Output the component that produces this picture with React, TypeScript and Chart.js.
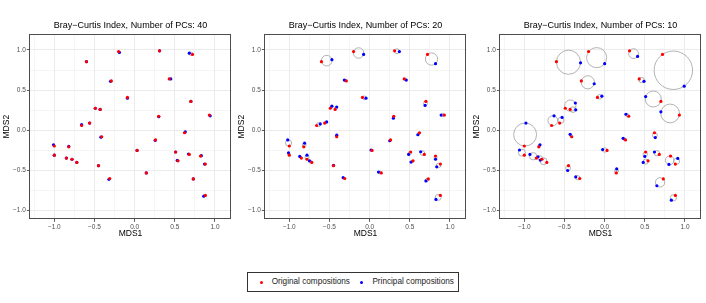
import React, { useEffect, useRef } from "react";
import { Chart, registerables } from "chart.js";
Chart.register(...registerables);

// ---- data ----
const originalX = [-0.20, 0.31, 0.72, -0.60, -0.29, 0.43, -0.09, 0.70, -0.49, -0.43, 0.30, 0.93, -0.66, -0.56, 0.62, -0.41, -1.00, -1.00, -0.82, -0.85, -0.78, -0.72, 0.03, 0.26, 0.51, 0.54, 0.68, 0.82, 0.88, -0.45, -0.31, 0.145, 0.73, 0.88];
const originalY = [0.98, 0.99, 0.945, 0.855, 0.615, 0.64, 0.41, 0.36, 0.275, 0.26, 0.175, 0.19, 0.06, 0.09, -0.03, -0.08, -0.195, -0.31, -0.205, -0.345, -0.36, -0.40, -0.25, -0.12, -0.27, -0.38, -0.30, -0.32, -0.42, -0.44, -0.60, -0.53, -0.605, -0.81];

const pc40X = [-0.19, 0.31, 0.68, -0.60, -0.30, 0.45, -0.09, 0.70, -0.49, -0.43, 0.30, 0.94, -0.66, -0.56, 0.63, -0.42, -1.01, -1.00, -0.82, -0.85, -0.78, -0.72, 0.03, 0.255, 0.51, 0.53, 0.67, 0.83, 0.87, -0.45, -0.32, 0.145, 0.73, 0.86];
const pc40Y = [0.97, 0.99, 0.96, 0.855, 0.61, 0.64, 0.40, 0.36, 0.275, 0.26, 0.17, 0.18, 0.07, 0.09, -0.02, -0.085, -0.18, -0.31, -0.20, -0.345, -0.36, -0.40, -0.25, -0.125, -0.27, -0.375, -0.295, -0.315, -0.42, -0.44, -0.61, -0.53, -0.605, -0.82];

const pc20X = [-0.075, 0.37, 0.82, -0.47, -0.315, 0.456, -0.046, 0.69, -0.47, -0.41, 0.295, 0.89, -0.615, -0.535, 0.60, -0.41, -1.02, -1.01, -0.81, -0.87, -0.78, -0.75, 0.017, 0.25, 0.485, 0.515, 0.635, 0.82, 0.835, -0.45, -0.33, 0.11, 0.70, 0.825];
const pc20Y = [0.945, 0.98, 0.83, 0.88, 0.625, 0.625, 0.40, 0.31, 0.30, 0.29, 0.15, 0.19, 0.08, 0.105, -0.055, -0.06, -0.12, -0.28, -0.16, -0.325, -0.31, -0.38, -0.245, -0.13, -0.30, -0.395, -0.267, -0.36, -0.455, -0.435, -0.59, -0.52, -0.63, -0.86];

const pc10X = [0.0, 0.41, 0.99, -0.30, -0.13, 0.49, -0.035, 0.51, -0.365, -0.36, 0.265, 0.70, -0.63, -0.53, 0.63, -0.43, -0.98, -1.06, -0.805, -0.93, -0.83, -0.80, -0.025, 0.23, 0.50, 0.48, 0.62, 0.80, 0.91, -0.46, -0.36, 0.15, 0.65, 0.83];
const pc10Y = [0.83, 0.92, 0.55, 0.84, 0.58, 0.61, 0.425, 0.42, 0.34, 0.255, 0.20, 0.23, 0.18, 0.16, -0.09, -0.05, 0.09, -0.245, -0.18, -0.30, -0.33, -0.37, -0.24, -0.10, -0.325, -0.40, -0.27, -0.425, -0.35, -0.50, -0.58, -0.48, -0.69, -0.87];

const panelPCs = [40, 20, 10];
const majorTicks = [-1, -0.5, 0, 0.5, 1];
const xGridTicks = [-1.25, -1, -0.75, -0.5, -0.25, 0, 0.25, 0.5, 0.75, 1];
const yGridTicks = [-1, -0.75, -0.5, -0.25, 0, 0.25, 0.5, 0.75, 1];
const legendLabels = ["Original compositions", "Principal compositions"];

const FONT = "'Liberation Sans', Arial, Helvetica, sans-serif";
const PANEL_W = 235;
const PANEL_H = 250;

const isMajor = (v: number) => majorTicks.some((m) => Math.abs(m - v) < 1e-9);
const fmt = (v: number) => (v < 0 ? "\u2212" : "") + Math.abs(v).toFixed(1);

function Panel({ pcs, bx, by, left }: { pcs: number; bx: number[]; by: number[]; left: number }) {
  const ref = useRef<HTMLCanvasElement>(null);
  useEffect(() => {
    const orig = originalX.map((x, i) => ({ x, y: originalY[i] }));
    const princ = bx.map((x, i) => ({ x, y: by[i] }));

    const circlePlugin = {
      id: "pairCircles",
      beforeDatasetsDraw(chart: any) {
        const { ctx, chartArea: a, scales } = chart;
        const xs = scales.x, ys = scales.y;
        ctx.save();
        ctx.beginPath();
        ctx.rect(a.left, a.top, a.right - a.left, a.bottom - a.top);
        ctx.clip();
        ctx.strokeStyle = "#a0a0a0";
        ctx.lineWidth = 0.8;
        orig.forEach((p, i) => {
          const q = princ[i];
          const x1 = xs.getPixelForValue(p.x), y1 = ys.getPixelForValue(p.y);
          const x2 = xs.getPixelForValue(q.x), y2 = ys.getPixelForValue(q.y);
          const r = Math.hypot(x2 - x1, y2 - y1) / 2;
          ctx.beginPath();
          ctx.arc((x1 + x2) / 2, (y1 + y2) / 2, r, 0, Math.PI * 2);
          ctx.stroke();
        });
        ctx.restore();
      },
    };
    const borderPlugin = {
      id: "panelBorder",
      afterDatasetsDraw(chart: any) {
        const { ctx, chartArea: a } = chart;
        ctx.save();
        ctx.strokeStyle = "#4d4d4d";
        ctx.lineWidth = 1;
        ctx.strokeRect(Math.round(a.left) + 0.5, Math.round(a.top) + 0.5, Math.round(a.right - a.left) - 1, Math.round(a.bottom - a.top) - 1);
        ctx.restore();
      },
    };

    const gridOpts = {
      color: "#ebebeb",
      lineWidth: (c: any) => (c.tick && isMajor(c.tick.value) ? 1 : 0.5),
      tickColor: (c: any) => (c.tick && isMajor(c.tick.value) ? "#333333" : "rgba(0,0,0,0)"),
      tickWidth: 0.8,
      tickLength: 2.5,
      drawTicks: true,
    };
    const tickOpts = {
      autoSkip: false,
      maxRotation: 0,
      minRotation: 0,
      padding: 1,
      color: "#4d4d4d",
      font: { family: FONT, size: 6.5 },
      callback: (v: any) => (isMajor(Number(v)) ? fmt(Number(v)) : ""),
    };

    const chart = new Chart(ref.current!, {
      type: "scatter",
      data: {
        datasets: [
          { label: legendLabels[0], data: orig, backgroundColor: "#ff0000", pointRadius: 1.6, pointBorderWidth: 0, pointHoverRadius: 1.6 },
          { label: legendLabels[1], data: princ, backgroundColor: "#0000ff", pointRadius: 1.6, pointBorderWidth: 0, pointHoverRadius: 1.6 },
        ],
      },
      options: {
        responsive: false,
        animation: false,
        devicePixelRatio: 1,
        layout: { padding: { left: 0, right: PANEL_W - 231.67, top: 0, bottom: PANEL_H - 239.33 } },
        plugins: {
          legend: { display: false },
          tooltip: { enabled: false },
          title: {
            display: true,
            fullSize: false,
            text: `Bray\u2212Curtis Index, Number of PCs: ${pcs}`,
            color: "#000000",
            font: { family: FONT, size: 9, weight: "normal" },
            padding: { top: 20.6, bottom: 2.6 },
          },
        },
        scales: {
          x: {
            type: "linear",
            min: -1.311,
            max: 1.2075,
            afterBuildTicks: (s: any) => {
              s.ticks = xGridTicks.map((v) => ({ value: v }));
            },
            afterFit: (s: any) => {
              s.height = 20;
            },
            grid: gridOpts,
            border: { display: false },
            ticks: tickOpts,
            title: { display: true, text: "MDS1", color: "#000000", font: { family: FONT, size: 8.5 }, padding: { top: 0, bottom: 0.9 } },
          },
          y: {
            type: "linear",
            min: -1.108,
            max: 1.199,
            afterBuildTicks: (s: any) => {
              s.ticks = yGridTicks.map((v) => ({ value: v }));
            },
            afterFit: (s: any) => {
              s.width = 29.33;
            },
            grid: gridOpts,
            border: { display: false },
            ticks: tickOpts,
            title: { display: true, text: "MDS2", color: "#000000", font: { family: FONT, size: 8.5 }, padding: { top: 1.6, bottom: 0 } },
          },
        },
      } as any,
      plugins: [circlePlugin, borderPlugin],
    });
    return () => chart.destroy();
  }, [pcs, bx, by]);
  return (
    <canvas
      ref={ref}
      width={PANEL_W}
      height={PANEL_H}
      style={{ position: "absolute", left, top: 0, width: PANEL_W, height: PANEL_H }}
    />
  );
}

export default function App() {
  const panels = [
    { pcs: panelPCs[0], bx: pc40X, by: pc40Y },
    { pcs: panelPCs[1], bx: pc20X, by: pc20Y },
    { pcs: panelPCs[2], bx: pc10X, by: pc10Y },
  ];
  const dot = (color: string, left: number) => (
    <span style={{ position: "absolute", left: left - 1.7, top: 9.4 - 1.7, width: 3.4, height: 3.4, borderRadius: "50%", background: color }} />
  );
  const label = (text: string, left: number) => (
    <span style={{ position: "absolute", left, top: 0, lineHeight: "18.4px", fontSize: 8.2, fontFamily: FONT, color: "#1a1a1a", whiteSpace: "nowrap" }}>{text}</span>
  );
  return (
    <div style={{ position: "fixed", left: 0, top: 0, width: 706, height: 303, background: "#ffffff", overflow: "hidden" }}>
      {panels.map((p, i) => (
        <Panel key={i} pcs={p.pcs} bx={p.bx} by={p.by} left={i * PANEL_W} />
      ))}
      <div style={{ position: "absolute", left: 247, top: 272, width: 212, height: 20, border: "1px solid #333", boxSizing: "border-box" }}>
        {dot("#ff0000", 13.4)}
        {label(legendLabels[0], 23.7)}
        {dot("#0000ff", 113.7)}
        {label(legendLabels[1], 124.4)}
      </div>
    </div>
  );
}
